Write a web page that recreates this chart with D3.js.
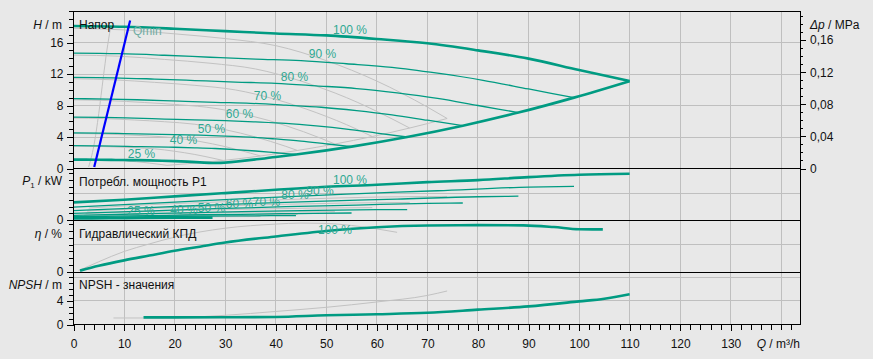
<!DOCTYPE html>
<html>
<head>
<meta charset="utf-8">
<script src="https://cdn.jsdelivr.net/npm/d3@7"></script>
<style>
  html, body { margin: 0; padding: 0; background: #e8e8e8; }
  svg { display: block; font-family: "Liberation Sans", Arial, sans-serif; font-size: 12px; }
</style>
</head>
<body>
<script>
// ---- data (Q in m3/h) ----
var speedLabels = ["100 %", "90 %", "80 %", "70 %", "60 %", "50 %", "40 %", "25 %"];
var xTicks = [0, 10, 20, 30, 40, 50, 60, 70, 80, 90, 100, 110, 120, 130];
var headTicks = [0, 4, 8, 12, 16];
var dpTicks = [0, 0.04, 0.08, 0.12, 0.16];
var npshTicks = [0, 4];

// head H / m per speed
var head100 = [[0,18.1],[10,18.0],[20,17.75],[30,17.45],[40,17.15],[50,16.9],[60,16.45],[70,15.9],[80,15.0],[90,13.95],[100,12.5],[110,11.1]];
var head90 = [[0,14.65],[9,14.58],[18,14.38],[27,14.13],[36,13.89],[45,13.69],[54,13.3],[63,12.85],[72,12.1],[81,11.2],[90,10.1],[99,9.0]];
var head80 = [[0,11.58],[8,11.52],[16,11.36],[24,11.17],[32,10.98],[40,10.82],[48,10.5],[56,10.15],[64,9.6],[72,8.9],[80,8.0],[88,7.1]];
var head70 = [[0,8.87],[7,8.82],[14,8.7],[21,8.55],[28,8.4],[35,8.28],[42,8.05],[49,7.78],[56,7.35],[63,6.81],[70,6.13],[77,5.44]];
var head60 = [[0,6.52],[6,6.48],[12,6.39],[18,6.28],[24,6.17],[30,6.08],[36,5.92],[42,5.72],[48,5.4],[54,5.0],[60,4.5],[66,4.0]];
var head50 = [[0,4.53],[5,4.5],[10,4.44],[15,4.36],[20,4.29],[25,4.23],[30,4.11],[35,3.98],[40,3.75],[45,3.48],[50,3.13],[55,2.78]];
var head40 = [[0,2.9],[4,2.88],[8,2.84],[12,2.79],[16,2.74],[20,2.7],[24,2.63],[28,2.54],[32,2.4],[36,2.22],[40,2.0],[44,1.78]];
var head25 = [[0,1.13],[2.5,1.13],[5,1.11],[7.5,1.09],[10,1.07],[12.5,1.06],[15,1.03],[17.5,0.99],[20,0.94],[22.5,0.87],[25,0.78],[27.5,0.69]];
var headLimit = [[27.5,0.69],[40,1.47],[44,1.78],[55,2.78],[66,4.0],[77,5.44],[88,7.1],[99,9.0],[110,11.1]];

// second (grey) pump, head
var grayHead100 = [[0,17.8],[10,17.6],[20,17.1],[30,16.5],[40,15.6],[50,13.7],[60,11.1],[70,7.8],[73.9,6.35]];
var grayHead90 = [[0,14.4],[9,14.26],[18,13.85],[27,13.37],[36,12.64],[45,11.1],[54,9.0],[63,6.3],[66.5,5.14]];
var grayHead80 = [[0,11.4],[8,11.26],[16,10.94],[24,10.56],[32,9.98],[40,8.77],[48,7.1],[56,5.0],[59.1,4.06]];
var grayHead70 = [[0,8.72],[7,8.62],[14,8.38],[21,8.09],[28,7.64],[35,6.71],[42,5.44],[49,3.82],[51.7,3.11]];
var grayHead60 = [[0,6.41],[6,6.34],[12,6.16],[18,5.94],[24,5.62],[30,4.93],[36,4.0],[42,2.81],[44.3,2.29]];
var grayHead50 = [[0,4.45],[5,4.4],[10,4.28],[15,4.13],[20,3.9],[25,3.43],[30,2.78],[35,1.95],[37,1.59]];
var grayHead40 = [[0,2.85],[4,2.82],[8,2.74],[12,2.64],[16,2.5],[20,2.19],[24,1.78],[28,1.25],[29.6,1.02]];
var grayHead25 = [[0,1.11],[2.5,1.1],[5,1.07],[7.5,1.03],[10,0.98],[12.5,0.86],[15,0.69],[17.5,0.49],[18.5,0.4]];
var grayLimit = [[18.5,0.4],[29.6,1.02],[37,1.59],[44.3,2.29],[51.7,3.11],[59.1,4.06],[66.5,5.14],[73.9,6.35]];
var grayQmin = [[3.0,0.2],[4.0,2.8],[5.0,7.0],[5.9,11.6],[6.6,15.0],[7.3,17.8]];
var qmin = [[4.1,0.2],[11.2,18.8]];

// power P1 / kW per speed
var power100 = [[0,2.65],[10,3.05],[20,3.55],[30,4.05],[40,4.55],[50,5.0],[60,5.3],[70,5.7],[80,6.0],[90,6.45],[100,6.8],[110,6.95]];
var power90 = [[0,1.95],[18,2.6],[36,3.3],[54,3.9],[72,4.4],[90,4.95],[99,5.07]];
var power80 = [[0,1.42],[16,1.9],[32,2.4],[48,2.8],[64,3.15],[80,3.5],[88,3.58]];
var power70 = [[0,1.0],[14,1.33],[28,1.7],[42,2.0],[56,2.25],[70,2.5],[77,2.56]];
var power60 = [[0,0.7],[12,0.9],[24,1.12],[36,1.3],[48,1.45],[60,1.55],[66,1.57]];
var power50 = [[0,0.5],[11,0.62],[22,0.75],[33,0.86],[44,0.97],[55,1.05]];
var power40 = [[0,0.36],[11,0.45],[22,0.55],[33,0.62],[44,0.66]];
var power25 = [[0,0.22],[7,0.26],[14,0.3],[21,0.33],[27.5,0.35]];
var grayPower100 = [[3,1.8],[15,2.3],[30,2.75],[45,3.15],[60,3.45],[73.9,3.55]];
var grayPower90 = [[2.7,1.35],[13.5,1.7],[27,2.05],[40.5,2.35],[54,2.55],[66.5,2.65]];
var grayPower80 = [[2.4,0.98],[12,1.22],[24,1.45],[36,1.65],[48,1.8],[59.1,1.86]];
var grayPower70 = [[2.1,0.7],[10.5,0.85],[21,1.0],[31.5,1.13],[42,1.22],[51.7,1.26]];
var grayPower60 = [[1.8,0.48],[9,0.58],[18,0.68],[27,0.76],[36,0.82],[44.3,0.85]];
var grayPower50 = [[1.5,0.33],[15,0.42],[30,0.5],[37,0.52]];

// hydraulic efficiency / %
var eta100 = [[1.3,2],[5,9],[10,17],[15,24],[20,31],[25,37],[30,43],[40,52],[50,60],[60,65.5],[70,68],[80,68.5],[89,68.2],[95,65.7],[100,62.5],[104.7,62.3]];
var grayEta = [[1,2],[5,15],[10,30],[15,41],[20,51],[30,64],[40,70],[45,71.5],[50,71],[55,68],[60,63],[64,58]];

// NPSH / m
var npsh100 = [[13.85,1.2],[20,1.2],[30,1.22],[40,1.27],[50,1.55],[60,1.73],[70,1.97],[80,2.5],[90,3.05],[100,3.9],[105,4.35],[110,5.1]];
var grayNpsh = [[7.9,1.1],[17.5,1.1],[25,1.3],[30,1.55],[40,2.2],[50,2.9],[60,3.8],[70,4.9],[73.9,5.65]];

// ---- layout ----
var width = 873, height = 359;
var left = 73.5, right = 800;
var teal = "#009b82", tealText = "#2fa893", grey = "#c2c2c2", grid = "#bfbfbf";

var x = d3.scaleLinear().domain([0, 143.7]).range([left, right]);
var yH = d3.scaleLinear().domain([0, 20]).range([168.5, 11]);
var yDp = d3.scaleLinear().domain([0, 0.1962]).range([168.5, 11]);
var yP = d3.scaleLinear().domain([0, 7.75]).range([220, 168.5]);
var yEta = d3.scaleLinear().domain([0, 76]).range([272, 220]);
var yN = d3.scaleLinear().domain([0, 8.85]).range([324.5, 272]);

var svg = d3.select("body").append("svg")
    .attr("width", width)
    .attr("height", height);

svg.append("rect").attr("width", width).attr("height", height).attr("fill", "#e8e8e8");

// grid
var g = svg.append("g").attr("shape-rendering", "crispEdges").attr("stroke", grid).attr("stroke-width", 1);
d3.range(10, 141, 10).forEach(function(q) {
  g.append("line").attr("x1", x(q)).attr("x2", x(q)).attr("y1", 11).attr("y2", 324.5);
});
[[yH, [4, 8, 12, 16]], [yP, [4]], [yEta, [40]], [yN, [4, 8]]].forEach(function(p) {
  p[1].forEach(function(v) {
    g.append("line").attr("x1", left).attr("x2", right).attr("y1", p[0](v)).attr("y2", p[0](v));
  });
});

function drawCurve(data, yScale, color, w) {
  var line = d3.line()
      .x(function(d) { return x(d[0]); })
      .y(function(d) { return yScale(d[1]); })
      .curve(d3.curveMonotoneX);
  svg.append("path").datum(data)
      .attr("d", line)
      .attr("fill", "none")
      .attr("stroke", color)
      .attr("stroke-width", w);
}

// grey pump
[grayHead100, grayHead90, grayHead80, grayHead70, grayHead60, grayHead50, grayHead40, grayHead25, grayLimit, grayQmin]
  .forEach(function(c) { drawCurve(c, yH, grey, 1); });
[grayPower100, grayPower90, grayPower80, grayPower70, grayPower60, grayPower50]
  .forEach(function(c) { drawCurve(c, yP, grey, 1); });
drawCurve(grayEta, yEta, grey, 1);
drawCurve(grayNpsh, yN, grey, 1);

// main pump
[head90, head80, head70, head60, head50, head40].forEach(function(c) { drawCurve(c, yH, teal, 1.3); });
drawCurve(head100, yH, teal, 2.6);
drawCurve(head25.concat(headLimit.slice(1)), yH, teal, 2.6);

[power90, power80, power70, power60, power50, power40].forEach(function(c) { drawCurve(c, yP, teal, 1.3); });
drawCurve(power100, yP, teal, 2.6);
drawCurve(power25, yP, teal, 2.6);
drawCurve(eta100, yEta, teal, 2.6);
drawCurve(npsh100, yN, teal, 2.6);

// Qmin
svg.append("path").datum(qmin)
    .attr("d", d3.line().x(function(d) { return x(d[0]); }).y(function(d) { return yH(d[1]); }))
    .attr("stroke", "#0000ff").attr("stroke-width", 2.2).attr("fill", "none");
svg.append("text").attr("x", 133).attr("y", 31).attr("dy", "0.35em")
    .attr("fill", "#72ada3").text("Qmin");

// speed labels
var headLabelPos = [[350,29.3],[322.5,54],[294.5,76.3],[267.5,96],[239.5,113.3],[211.5,128.3],[183.5,140],[141.5,153.3]];
var powerLabelPos = [[350,179.7],[320,190.7],[295,194.7],[266.5,201.3],[239.5,204],[211.5,208],[184,209.7],[141,210.7]];
[headLabelPos, powerLabelPos].forEach(function(pos) {
  svg.append("g").selectAll("text").data(speedLabels).enter().append("text")
      .attr("x", function(d, i) { return pos[i][0]; })
      .attr("y", function(d, i) { return pos[i][1]; })
      .attr("dy", "0.35em")
      .attr("text-anchor", "middle")
      .attr("fill", tealText)
      .text(function(d) { return d; });
});
svg.append("text").attr("x", 335).attr("y", 230).attr("dy", "0.35em")
    .attr("text-anchor", "middle").attr("fill", tealText).text(speedLabels[0]);

// borders
var b = svg.append("g").attr("shape-rendering", "crispEdges").attr("stroke", "#000").attr("stroke-width", 1);
[11, 168.5, 220, 272, 324.5].forEach(function(yy) {
  b.append("line").attr("x1", left).attr("x2", right).attr("y1", yy).attr("y2", yy);
});
[left, right].forEach(function(xx) {
  b.append("line").attr("x1", xx).attr("x2", xx).attr("y1", 11).attr("y2", 324.5);
});

// axes
function tickAxis(axis, transform) {
  var a = svg.append("g").attr("transform", transform).call(axis);
  a.select(".domain").remove();
  a.selectAll("line").attr("stroke", "#000").attr("shape-rendering", "crispEdges");
  a.selectAll("text").attr("fill", "#111").style("font-size", "12px")
      .style("font-family", "'Liberation Sans', Arial, sans-serif");
  return a;
}
var noLabel = function() { return ""; };

// H axis
tickAxis(d3.axisLeft(yH).tickValues(d3.range(0, 21, 1)).tickSize(5).tickFormat(noLabel), "translate(" + left + ",0)");
tickAxis(d3.axisLeft(yH).tickValues(headTicks).tickSize(7).tickPadding(3), "translate(" + left + ",0)");
// power axis
tickAxis(d3.axisLeft(yP).tickValues(d3.range(0, 8, 1)).tickSize(5).tickFormat(noLabel), "translate(" + left + ",0)");
tickAxis(d3.axisLeft(yP).tickValues([0]).tickSize(7).tickPadding(3), "translate(" + left + ",0)");
// eta axis
tickAxis(d3.axisLeft(yEta).tickValues(d3.range(0, 71, 10)).tickSize(5).tickFormat(noLabel), "translate(" + left + ",0)");
tickAxis(d3.axisLeft(yEta).tickValues([0]).tickSize(7).tickPadding(3), "translate(" + left + ",0)");
// NPSH axis
tickAxis(d3.axisLeft(yN).tickValues(d3.range(0, 9, 1)).tickSize(5).tickFormat(noLabel), "translate(" + left + ",0)");
tickAxis(d3.axisLeft(yN).tickValues(npshTicks).tickSize(7).tickPadding(3), "translate(" + left + ",0)");
// dp axis
tickAxis(d3.axisRight(yDp).tickValues(d3.range(0, 0.195, 0.01)).tickSize(3).tickFormat(noLabel), "translate(" + right + ",0)");
tickAxis(d3.axisRight(yDp).tickValues(dpTicks).tickSize(6).tickPadding(4)
    .tickFormat(function(d) { return d === 0 ? "0" : d.toFixed(2).replace(".", ","); }), "translate(" + right + ",0)");
// Q axis
tickAxis(d3.axisBottom(x).tickValues(d3.range(0, 143, 2)).tickSize(5).tickFormat(noLabel), "translate(0,324.5)");
tickAxis(d3.axisBottom(x).tickValues(xTicks).tickSize(6).tickPadding(9), "translate(0,324.5)");

// axis titles
function title(xx, yy, anchor, parts) {
  var t = svg.append("text").attr("x", xx).attr("y", yy).attr("dy", "0.35em")
      .attr("text-anchor", anchor).attr("fill", "#111");
  parts.forEach(function(p) {
    var s = t.append("tspan").text(p[0]);
    if (p[1] === "i") s.attr("font-style", "italic");
    if (p[1] === "sub") s.attr("font-size", "8px").attr("dy", "3");
    if (p[1] === "up") s.attr("dy", "-3");
  });
}
title(62, 24.3, "end", [["H", "i"], [" / m"]]);
title(62, 181, "end", [["P", "i"], ["1", "sub"], [" / kW", "up"]]);
title(62, 233.3, "end", [["η", "i"], [" / %"]]);
title(62, 285, "end", [["NPSH", "i"], [" / m"]]);
title(810, 24.3, "start", [["Δp", "i"], [" / MPa"]]);
title(800, 344, "end", [["Q", "i"], [" / m³/h"]]);

// panel titles
[["Напор", 24.3], ["Потребл. мощность P1", 181.5], ["Гидравлический КПД", 233.3], ["NPSH - значения", 285]]
  .forEach(function(p) {
    svg.append("text").attr("x", 79).attr("y", p[1]).attr("dy", "0.35em").attr("fill", "#111").text(p[0]);
  });
</script>
</body>
</html>
